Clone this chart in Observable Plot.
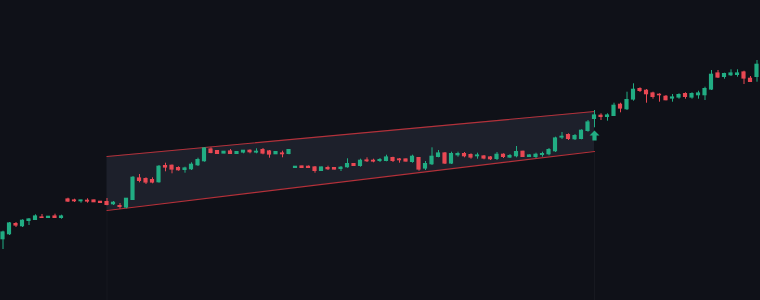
<!DOCTYPE html>
<html>
<head>
<meta charset="utf-8">
<script src="https://cdn.jsdelivr.net/npm/d3@7"></script>
<script src="https://cdn.jsdelivr.net/npm/@observablehq/plot@0.6"></script>
<style>
  html, body { margin: 0; padding: 0; background: #0f1118; }
  #chart { width: 760px; height: 300px; overflow: hidden; }
</style>
</head>
<body>
<div id="chart"></div>
<script>
// OHLC series (price units), one candle per session
const open  = [16.10,16.60,17.67,17.40,17.93,18.03,18.33,18.23,18.43,18.23,
               20.13,20.03,19.90,20.00,20.03,19.90,19.87,19.60,19.47,19.27,
               20.03,22.23,22.17,22.07,21.80,23.47,23.50,23.27,23.03,23.10,
               23.50,23.90,25.13,24.97,24.67,24.93,24.63,24.77,25.00,24.77,
               25.07,24.93,24.60,24.73,24.63,23.23,23.43,23.40,23.33,22.93,
               23.27,23.27,23.13,23.30,23.67,23.43,24.03,24.00,23.93,23.93,
               24.27,24.13,24.13,23.83,24.27,23.17,23.60,24.33,24.73,23.67,
               24.50,24.67,24.57,24.40,24.43,24.33,24.13,24.60,24.27,24.40,
               24.90,24.33,24.33,24.53,24.60,24.90,26.27,26.57,26.10,26.13,
               26.93,28.13,28.50,28.33,28.43,29.60,29.10,30.07,31.17,31.00,
               30.73,30.60,30.40,30.17,30.27,30.67,30.27,30.50,30.50,31.07,
               32.73,32.33,32.50,32.53,32.83,32.20,32.33];
const high  = [16.93,17.80,17.80,18.07,18.20,18.57,18.60,18.40,18.63,18.53,
               20.23,20.13,20.03,20.17,20.05,19.90,20.20,19.90,19.70,20.20,
               22.40,22.60,22.27,22.27,23.50,23.73,23.55,23.37,23.33,23.77,
               24.23,25.27,25.27,25.00,24.90,25.10,24.87,25.00,25.07,25.17,
               25.20,25.00,24.87,24.93,25.10,23.40,23.43,23.45,23.40,23.33,
               23.43,23.27,23.40,24.17,23.70,24.13,24.27,24.13,24.20,24.53,
               24.33,24.20,24.15,24.53,24.30,23.90,25.27,25.00,24.80,24.83,
               24.83,24.80,24.67,24.73,24.50,24.40,24.80,24.67,24.60,25.40,
               24.93,24.57,24.73,24.83,25.20,26.33,26.80,26.67,26.60,27.07,
               28.00,29.00,28.67,28.67,29.73,29.73,30.83,31.67,31.27,31.10,
               30.83,30.67,30.50,30.60,30.67,30.77,30.77,30.93,31.33,33.00,
               33.00,32.73,33.07,33.07,32.93,32.40,34.00];
const low   = [15.10,16.50,17.30,17.30,17.50,18.00,18.23,18.23,18.23,18.13,
               19.80,19.80,19.73,19.73,19.80,19.73,19.47,19.50,19.13,19.17,
               20.00,21.77,21.60,21.67,21.73,22.87,22.67,22.93,22.73,23.00,
               23.40,23.83,24.67,24.60,24.67,24.60,24.63,24.67,24.67,24.67,
               24.57,24.23,24.60,24.27,24.57,23.23,23.23,23.20,22.73,22.93,
               23.00,23.07,22.90,23.23,23.40,23.33,23.80,23.77,23.80,23.87,
               23.80,23.73,23.85,23.73,22.93,23.00,23.50,24.27,23.60,23.60,
               24.33,24.27,24.13,24.13,24.07,24.00,24.00,24.20,24.20,24.27,
               24.30,24.30,24.20,24.33,24.47,24.80,26.10,26.00,26.00,26.07,
               26.83,27.27,28.00,27.93,28.40,28.77,29.00,29.93,30.80,29.73,
               30.13,29.83,29.97,29.83,30.13,30.13,30.13,30.13,30.00,31.00,
               32.20,32.13,32.40,32.33,31.60,31.80,31.83];
const close = [16.83,17.73,17.47,18.00,18.13,18.43,18.23,18.40,18.23,18.43,
               19.87,19.90,20.03,19.87,19.80,19.73,19.53,19.80,19.33,20.20,
               22.30,21.93,21.77,21.77,23.40,23.27,23.07,23.00,23.23,23.60,
               24.07,25.23,24.73,24.63,24.90,24.63,24.87,25.00,24.80,24.90,
               24.67,24.57,24.87,24.60,25.07,23.40,23.23,23.23,22.93,23.33,
               23.10,23.07,23.30,23.67,23.43,24.00,23.90,23.87,24.07,24.33,
               23.93,24.00,23.87,24.40,23.07,23.67,24.40,24.73,23.67,24.67,
               24.67,24.40,24.27,24.53,24.17,24.10,24.60,24.33,24.47,24.87,
               24.33,24.53,24.60,24.67,25.07,26.23,26.40,26.13,26.47,27.00,
               27.83,28.53,28.33,28.53,29.50,29.17,30.07,31.10,30.93,30.60,
               30.33,30.50,30.00,30.33,30.57,30.33,30.67,30.73,31.17,32.60,
               32.27,32.67,32.73,32.73,32.17,31.83,33.60];

// Rising channel: start / end session and upper / lower boundary prices
const channelIdx   = [16, 91];
const channelUpper = [24.40, 28.90];
const channelLower = [19.00, 24.90];

// Breakout signal (session, arrow bottom, arrow top)
const signalIdx = 91;
const signalLow = 26.00;
const signalHigh = 27.00;

const UP = "#21ad83", DOWN = "#e94853";

const candles = open.map((o, i) => ({
  i, o, h: high[i], l: low[i], c: close[i], up: close[i] >= o
}));
const channel = channelIdx.map((x, k) => ({x, top: channelUpper[k], bot: channelLower[k]}));

const upArrow = {
  draw(ctx, size) {
    const r = Math.sqrt(size / Math.PI);
    const s = r * 0.42;
    ctx.moveTo(0, -r);
    ctx.lineTo(r, 0);
    ctx.lineTo(s, 0);
    ctx.lineTo(s, r);
    ctx.lineTo(-s, r);
    ctx.lineTo(-s, 0);
    ctx.lineTo(-r, 0);
    ctx.closePath();
  }
};

const chart = Plot.plot({
  width: 760,
  height: 300,
  margin: 0,
  style: {background: "#0f1118", overflow: "hidden"},
  x: {type: "linear", domain: [-0.385, 760 / 6.5 - 0.385], axis: null},
  y: {domain: [10, 40], axis: null},
  marks: [
    // faint vertical guides under the channel
    Plot.ruleX(channel, {x: "x", y1: 10, y2: "bot", stroke: "#ffffff", strokeOpacity: 0.035, strokeWidth: 1}),
    // channel fill
    Plot.areaY(channel, {x: "x", y1: "bot", y2: "top", fill: "#1d202b", fillOpacity: 1}),
    Plot.line(channel, {x: "x", y: "top", stroke: "#b3313a", strokeWidth: 1.2}),
    Plot.line(channel, {x: "x", y: "bot", stroke: "#b3313a", strokeWidth: 1.2}),
    // wicks
    Plot.ruleX(candles, {x: "i", y1: "l", y2: "h", stroke: d => d.up ? UP : DOWN, strokeWidth: 1}),
    // bodies
    Plot.rect(candles, {
      x1: d => d.i - 0.32, x2: d => d.i + 0.32,
      y1: d => Math.min(d.o, d.c) - 0.03, y2: d => Math.max(d.o, d.c) + 0.03,
      fill: d => d.up ? UP : DOWN
    }),
    // breakout arrow
    Plot.dot([{x: signalIdx, y: (signalLow + signalHigh) / 2}], {
      x: "x", y: "y", r: 5, symbol: upArrow, fill: UP, stroke: "none"
    })
  ]
});
document.getElementById("chart").appendChild(chart);
</script>
</body>
</html>
